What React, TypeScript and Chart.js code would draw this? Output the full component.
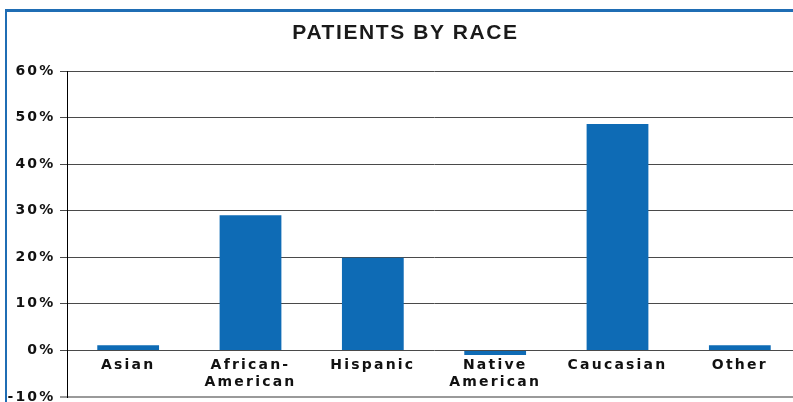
import React, { useEffect, useRef } from "react";
import { Chart, registerables } from "chart.js";

Chart.register(...registerables);

const TITLE = "PATIENTS BY RACE";
const categories: (string | string[])[] = [
  "Asian",
  ["African-", "American"],
  "Hispanic",
  ["Native", "American"],
  "Caucasian",
  "Other",
];
const values: number[] = [1.1, 29.0, 19.9, -1.0, 48.6, 1.1];
const yMin = -10;
const yMax = 60;
const yStep = 10;

export default function App() {
  const canvasRef = useRef<HTMLCanvasElement | null>(null);

  useEffect(() => {
    const canvas = canvasRef.current;
    if (!canvas) return;
    const spacingPlugin = {
      id: "letterSpacing",
      beforeDraw(chart: any) {
        (chart.ctx as any).letterSpacing = "2.2px";
      },
    };
    const chart = new Chart(canvas, {
      type: "bar",
      data: {
        labels: categories,
        datasets: [
          {
            data: values,
            backgroundColor: "#0E6BB5",
            borderWidth: 0,
            categoryPercentage: 1,
            barPercentage: 0.505,
          },
        ],
      },
      options: {
        animation: false,
        responsive: false,
        devicePixelRatio: 1,
        layout: { padding: { left: 0, right: 0, top: 71, bottom: 23 } },
        plugins: {
          legend: { display: false },
          title: { display: false },
          tooltip: { enabled: false },
        },
        scales: {
          x: {
            position: { y: 0 } as any,
            grid: { display: false, drawTicks: false },
            border: { display: false },
            ticks: {
              color: "#111",
              padding: 6,
              maxRotation: 0,
              autoSkip: false,
              font: { family: "'DejaVu Sans'", weight: "bold", size: 14, lineHeight: 1.22 },
            },
          },
          y: {
            min: yMin,
            max: yMax,
            afterFit: (s: any) => {
              s.width = 67;
            },
            ticks: {
              stepSize: yStep,
              padding: 4.5,
              color: "#111",
              font: { family: "'DejaVu Sans'", weight: "bold", size: 14 },
              callback: (v: any) => v + "%",
            },
            grid: {
              tickLength: 7,
              color: (ctx: any) => (ctx.tick && ctx.tick.value === yMin ? "#9a9a9a" : "#4a4a4a"),
              tickColor: (ctx: any) => (ctx.tick && ctx.tick.value === yMin ? "#9a9a9a" : "#4a4a4a"),
              lineWidth: (ctx: any) => (ctx.tick && ctx.tick.value === yMin ? 2 : 1),
            },
            border: { display: true, color: "#000", width: 1 },
          },
        },
      },
      plugins: [spacingPlugin],
    });
    return () => chart.destroy();
  }, []);

  return (
    <div
      style={{
        position: "fixed",
        left: 0,
        top: 0,
        width: 793,
        height: 402,
        overflow: "hidden",
        background: "#fff",
      }}
    >
      <div
        style={{
          position: "absolute",
          left: 5,
          top: 9,
          width: 820,
          height: 420,
          borderLeft: "2px solid #1F6DB4",
          borderTop: "3px solid #1F6DB4",
          boxSizing: "border-box",
        }}
      />
      <canvas
        ref={canvasRef}
        width={801}
        height={420}
        style={{ position: "absolute", left: 0, top: 0, width: 801, height: 420 }}
      />
      <div
        style={{
          position: "absolute",
          left: 0,
          top: 20.5,
          width: 811,
          textAlign: "center",
          fontFamily: "'Liberation Sans', Arial, sans-serif",
          fontWeight: "bold",
          fontSize: 21,
          lineHeight: "21px",
          letterSpacing: "1.6px",
          color: "#1a1a1a",
        }}
      >
        {TITLE}
      </div>
    </div>
  );
}
